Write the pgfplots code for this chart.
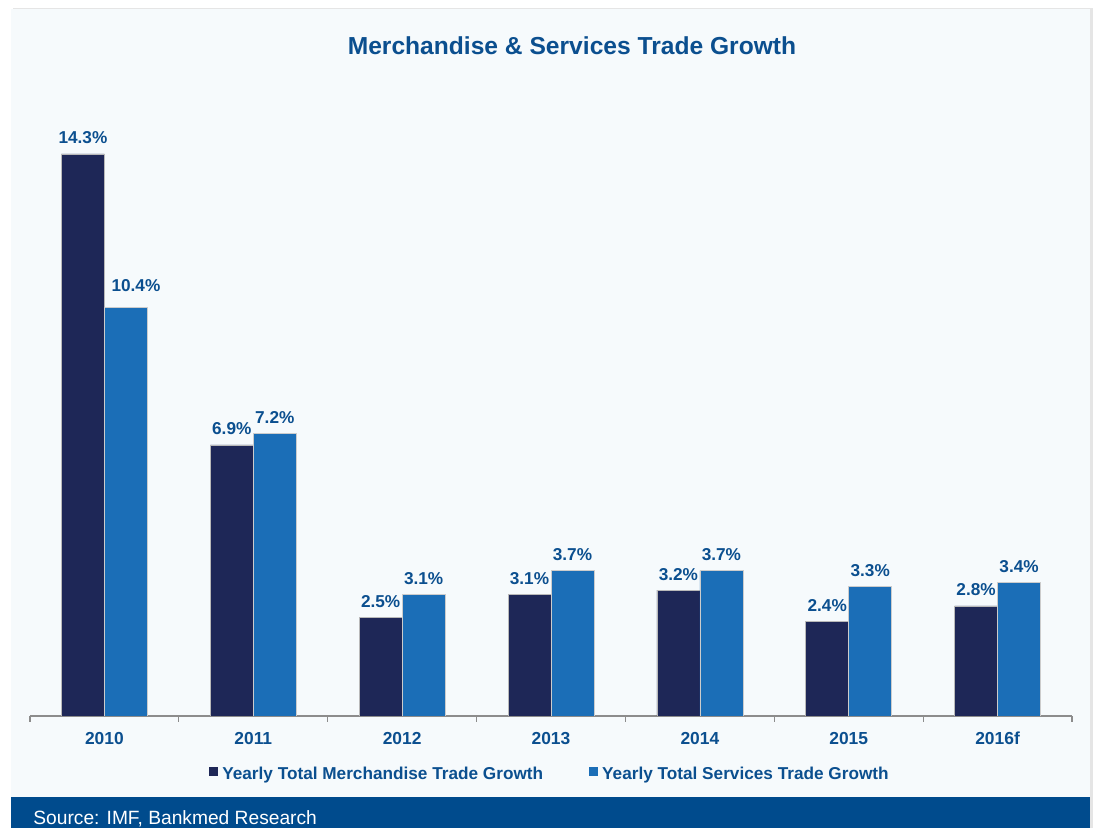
\documentclass[border=0pt]{standalone}
\usepackage{pgfplots}
\pgfplotsset{compat=1.18}
\usepackage{fontspec}
\setmainfont{Liberation Sans}
\definecolor{titleblue}{HTML}{0B4F8F}
\definecolor{bandblue}{HTML}{004B8D}
\definecolor{navybar}{HTML}{1E2757}
\definecolor{bluebar}{HTML}{1B6EB7}
\definecolor{panelbg}{HTML}{F6FAFC}
\definecolor{axisgray}{HTML}{8C8C8C}
\begin{document}
\begin{tikzpicture}
\path[use as bounding box] (-15pt,-56pt) rectangle (533pt,358pt);
\fill[white] (-15pt,-56pt) rectangle (533pt,358pt);
\fill[black!10] (-8.5pt,-56pt) rectangle (531.5pt,354pt);
\fill[panelbg] (-9.5pt,-56pt) rectangle (530pt,353.5pt);
\fill[bandblue] (-9.5pt,-56pt) rectangle (530pt,-40.5pt);
\node[anchor=west,text=white,font=\fontsize{9.6}{11}\selectfont,inner sep=0pt] at (1.5pt,-51.5pt) {Source: IMF, Bankmed Research};
\node[text=titleblue,font=\fontsize{12.3}{14}\selectfont\bfseries,inner sep=0pt] at (271pt,335pt) {Merchandise \& Services Trade Growth};
\begin{axis}[
  at={(0pt,0pt)}, anchor=south west,
  scale only axis,
  width=521pt, height=314.4pt,
  xmin=-0.5, xmax=6.5, ymin=0, ymax=16,
  ybar=0pt, bar width=21.5pt,
  axis x line*=bottom,
  axis y line=none,
  axis line style={axisgray,line width=0.6pt},
  xtick={0,1,2,3,4,5,6},
  xticklabels={2010,2011,2012,2013,2014,2015,2016f},
  major tick length=0pt,
  extra x ticks={-0.5,0.5,1.5,2.5,3.5,4.5,5.5,6.5},
  extra x tick labels={},
  extra x tick style={tick align=outside, major tick length=3pt, tick style={axisgray,line width=0.6pt}},
  xticklabel style={text=titleblue,font=\fontsize{8.7}{10}\selectfont\bfseries,yshift=-4.5pt},
  tick label style={/pgf/number format/assume math mode=true},
  nodes near coords={\pgfmathprintnumber[fixed,fixed zerofill,precision=1,assume math mode=true]{\pgfplotspointmeta}\%},
  every node near coord/.append style={text=titleblue,font=\fontsize{8.6}{10}\selectfont\bfseries,inner sep=2.5pt,yshift=2.3pt},
  legend columns=2,
  legend style={at={(0.5,-0.0935)},anchor=center,draw=none,fill=none,
    font=\fontsize{8.6}{10}\selectfont\bfseries,text=titleblue,
    /tikz/every even column/.append style={column sep=21pt},
    /tikz/every odd column/.append style={column sep=0pt}},
  legend image code/.code={\fill[#1,draw=none] (0pt,-0.6pt) rectangle (4.5pt,3.9pt);},
]
\addplot[fill=navybar,draw=gray!55,line width=0.3pt] coordinates {(0,14.3) (1,6.9) (2,2.5) (3,3.1) (4,3.2) (5,2.4) (6,2.8)};
\addplot[fill=bluebar,draw=gray!40,line width=0.3pt,
  visualization depends on={rawx \as \xv},
  every node near coord/.append style={xshift={ifthenelse(\xv<0.5,5,0)},yshift={ifthenelse(\xv<0.5,3,0)}}]
  coordinates {(0,10.4) (1,7.2) (2,3.1) (3,3.7) (4,3.7) (5,3.3) (6,3.4)};
\legend{Yearly Total Merchandise Trade Growth,Yearly Total Services Trade Growth}
\end{axis}
\end{tikzpicture}
\end{document}
